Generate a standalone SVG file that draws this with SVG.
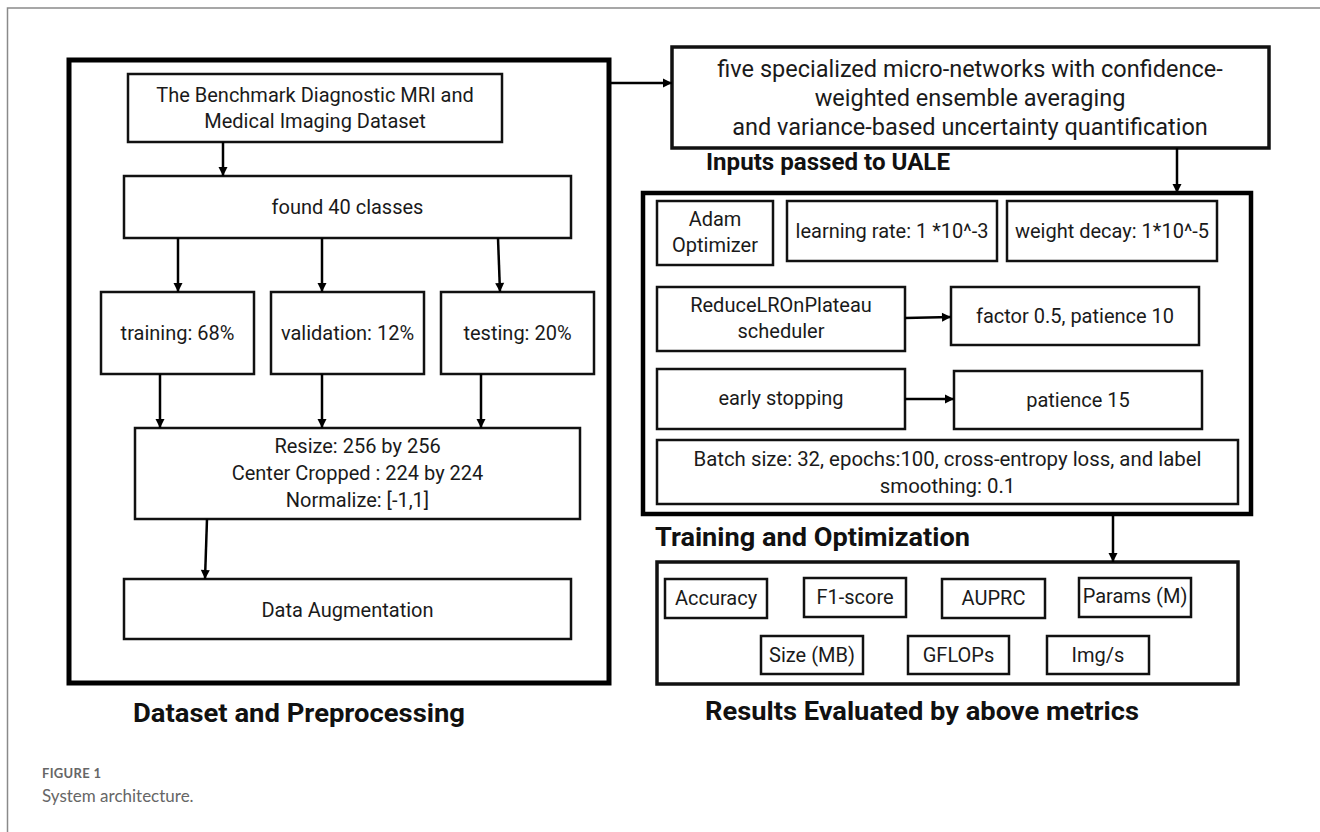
<svg xmlns="http://www.w3.org/2000/svg" width="1320" height="832" viewBox="0 0 1320 832">
<defs>
<style>
.t{font-family:Roboto,"Liberation Sans",sans-serif;font-size:20px;fill:#1a1a1a;text-anchor:middle}
.h{font-family:Roboto,"Liberation Sans",sans-serif;font-weight:bold;font-size:25px;fill:#111}
.b{fill:#fff;stroke:#111;stroke-width:2.5}
.k{fill:none;stroke:#000;stroke-width:5}
.c{stroke:#000;stroke-width:2.5;fill:none;marker-end:url(#ah)}
</style>
<marker id="ah" markerUnits="userSpaceOnUse" markerWidth="12" markerHeight="12" viewBox="0 0 12 12" refX="10" refY="6" orient="auto">
<path d="M1,1.5 L10,6 L1,10.5 Z" fill="#000"/>
</marker>
</defs>
<rect width="1320" height="832" fill="#fff"/>
<path d="M7.5,832 V8 H1320" fill="none" stroke="#8a8a8a" stroke-width="1.5"/>

<g id="dataset-panel">
<rect class="k" x="69" y="60" width="540" height="623"/>
<text class="h" x="133" y="722" textLength="332" lengthAdjust="spacingAndGlyphs">Dataset and Preprocessing</text>
</g>
<g id="benchmark"><rect class="b" x="128" y="74" width="374" height="68"/>
<text class="t" x="315" y="102">The Benchmark Diagnostic MRI and</text>
<text class="t" x="315" y="128">Medical Imaging Dataset</text></g>
<g id="found"><rect class="b" x="124" y="176" width="447" height="62"/>
<text class="t" x="347.5" y="214">found 40 classes</text></g>
<g id="training"><rect class="b" x="101" y="292" width="153" height="82"/>
<text class="t" x="177.5" y="340">training: 68%</text></g>
<g id="validation"><rect class="b" x="271" y="292" width="153" height="82"/>
<text class="t" x="347.5" y="340">validation: 12%</text></g>
<g id="testing"><rect class="b" x="441" y="292" width="153" height="82"/>
<text class="t" x="517.5" y="340">testing: 20%</text></g>
<g id="resize"><rect class="b" x="135" y="428" width="445" height="91"/>
<text class="t" x="357.5" y="453">Resize: 256 by 256</text>
<text class="t" x="357.5" y="480">Center Cropped : 224 by 224</text>
<text class="t" x="357.5" y="507">Normalize: [-1,1]</text></g>
<g id="augmentation"><rect class="b" x="124" y="579" width="447" height="60"/>
<text class="t" x="347.5" y="617">Data Augmentation</text></g>

<g id="ensemble"><rect class="b" x="672" y="47" width="597" height="101" style="stroke-width:3.5"/>
<text class="t" x="970" y="77" style="font-size:23.5px">five specialized micro-networks with confidence-</text>
<text class="t" x="970" y="106" style="font-size:23.5px">weighted ensemble averaging</text>
<text class="t" x="970" y="135" style="font-size:23.5px">and variance-based uncertainty quantification</text></g>
<text class="h" x="706" y="170" style="font-size:23px" textLength="244" lengthAdjust="spacingAndGlyphs">Inputs passed to UALE</text>

<g id="training-panel">
<rect class="k" x="643" y="193" width="608" height="321" style="stroke-width:4.5"/>
<text class="h" x="655" y="546" textLength="315" lengthAdjust="spacingAndGlyphs">Training and Optimization</text>
</g>
<g id="adam"><rect class="b" x="657" y="201" width="116" height="64"/>
<text class="t" x="715" y="226">Adam</text>
<text class="t" x="715" y="252">Optimizer</text></g>
<g id="lr"><rect class="b" x="787" y="201" width="210" height="60"/>
<text class="t" x="892" y="238">learning rate: 1 *10^-3</text></g>
<g id="wd"><rect class="b" x="1007" y="201" width="210" height="60"/>
<text class="t" x="1112" y="238">weight decay: 1*10^-5</text></g>
<g id="scheduler"><rect class="b" x="657" y="287" width="248" height="64"/>
<text class="t" x="781" y="312">ReduceLROnPlateau</text>
<text class="t" x="781" y="338">scheduler</text></g>
<g id="factor"><rect class="b" x="951" y="287" width="248" height="58"/>
<text class="t" x="1075" y="323">factor 0.5, patience 10</text></g>
<g id="early"><rect class="b" x="657" y="369" width="248" height="60"/>
<text class="t" x="781" y="405">early stopping</text></g>
<g id="patience"><rect class="b" x="954" y="371" width="248" height="58"/>
<text class="t" x="1078" y="407">patience 15</text></g>
<g id="batch"><rect class="b" x="657" y="440" width="581" height="64"/>
<text class="t" x="947.5" y="466" style="font-size:20.4px">Batch size: 32, epochs:100, cross-entropy loss, and label</text>
<text class="t" x="947.5" y="493" style="font-size:20.4px">smoothing: 0.1</text></g>

<g id="metrics-panel">
<rect class="b" x="657" y="562" width="581" height="122" style="stroke-width:3.5"/>
<text class="h" x="705" y="720" textLength="434" lengthAdjust="spacingAndGlyphs">Results Evaluated by above metrics</text>
</g>
<g id="accuracy"><rect class="b" x="665" y="579" width="102" height="39"/><text class="t" x="716" y="605">Accuracy</text></g>
<g id="f1"><rect class="b" x="804" y="578" width="102" height="39"/><text class="t" x="855" y="604">F1-score</text></g>
<g id="auprc"><rect class="b" x="942" y="579" width="103" height="39"/><text class="t" x="993.5" y="605">AUPRC</text></g>
<g id="params"><rect class="b" x="1079" y="578" width="112" height="39"/><text class="t" x="1135" y="603">Params (M)</text></g>
<g id="size"><rect class="b" x="761" y="636" width="102" height="38"/><text class="t" x="812" y="662">Size (MB)</text></g>
<g id="gflops"><rect class="b" x="908" y="636" width="101" height="38"/><text class="t" x="958.5" y="662">GFLOPs</text></g>
<g id="imgs"><rect class="b" x="1047" y="636" width="102" height="38"/><text class="t" x="1098" y="662">Img/s</text></g>

<g id="connectors">
<path class="c" d="M223,142 V176"/>
<path class="c" d="M178,238 V292"/>
<path class="c" d="M322,238 V292"/>
<path class="c" d="M498,238 L500,292"/>
<path class="c" d="M160,374 V428"/>
<path class="c" d="M322,374 V428"/>
<path class="c" d="M481,374 V428"/>
<path class="c" d="M207,519 L205,579"/>
<path class="c" d="M611,83 H672"/>
<path class="c" d="M1177,148 V193"/>
<path class="c" d="M905,318 L951,317"/>
<path class="c" d="M905,399 H954"/>
<path class="c" d="M1113,514 V562"/>
</g>

<g id="caption">
<text x="42" y="778" style="font-family:Lato,'Open Sans',sans-serif;font-weight:bold;font-size:13px;fill:#666;letter-spacing:0.3px">FIGURE 1</text>
<text x="42" y="802" style="font-family:Lato,'Open Sans',sans-serif;font-size:17px;fill:#666">System architecture.</text>
</g>
</svg>
